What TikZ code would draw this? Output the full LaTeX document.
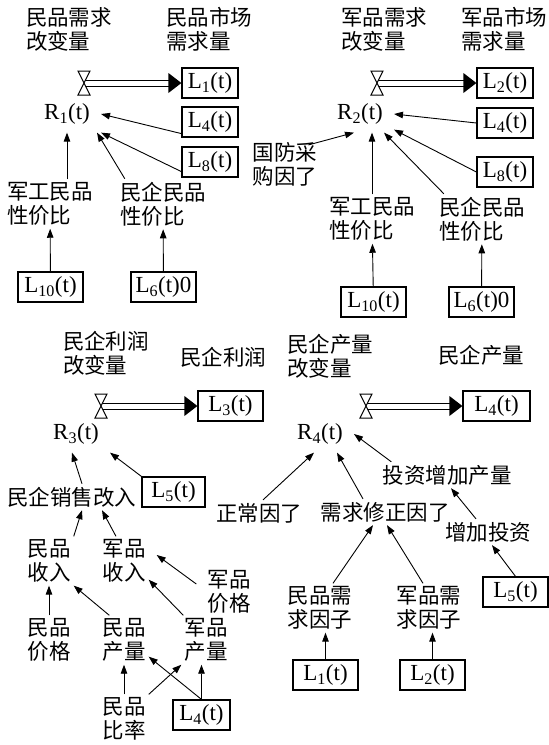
\documentclass[tikz,border=0pt]{standalone}
\usepackage{fontspec}
\setmainfont{Liberation Serif}
\newfontfamily\cjk{Noto Sans CJK SC}
\usetikzlibrary{arrows.meta}

\begin{document}
\begin{tikzpicture}[x=1pt, y=-1pt]
	\tikzstyle{place}=[rectangle, draw=black, line width=1.2pt, minimum width=56pt, minimum height=30pt, inner sep=1pt, font=\fontsize{23}{26}\selectfont]
	\tikzstyle{wide}=[place, minimum width=65pt]
	\tikzstyle{rate}=[inner xsep=11pt, inner ysep=8pt, font=\fontsize{23}{26}\selectfont]
	\tikzstyle{word}=[align=left, inner sep=3pt, font=\fontsize{21.5}{24}\selectfont\cjk]
	\tikzstyle{pipe}=[double, double distance=5pt, line width=1pt]
	\tikzstyle{valve}=[line width=1pt, fill=white]
	\tikzstyle{link}=[-{Triangle[length=9pt, width=6.5pt]}, line width=0.9pt]
	\useasboundingbox (0, 0) rectangle (549, 745);

	% civilian demand
	\draw node[word] at (69, 29) (d1) {民品需求\\改变量};
	\draw node[word] at (209, 29) (s1) {民品市场\\需求量};
	\coordinate (v1) at (84, 83);
	\draw node[place] at (210, 83) (L1) {L\textsubscript{1}(t)};
	\draw node[rate] at (67, 114) (R1) {R\textsubscript{1}(t)};
	\draw node[place] at (210, 122) (L4a) {L\textsubscript{4}(t)};
	\draw node[place] at (210, 162) (L8a) {L\textsubscript{8}(t)};
	\draw node[word] at (50, 204) (c1) {军工民品\\性价比};
	\draw node[word] at (163, 204) (c2) {民企民品\\性价比};
	\draw node[wide] at (50.5, 287) (L10a) {L\textsubscript{10}(t)};
	\draw node[wide] at (163.5, 287) (L6a) {L\textsubscript{6}(t)0};

	\draw [pipe] (v1) -- ([xshift=-12pt]L1.west);
	\fill ([xshift=-13pt, yshift=10pt]L1.west) -- (L1.west) -- ([xshift=-13pt, yshift=-10pt]L1.west) -- cycle;
	\draw [valve] (v1) ++(-6, -12) -- ++(12, 0) -- ++(-12, 24) -- ++(12, 0) -- cycle;
	\draw [link] ([yshift=4pt]L4a.south west) -- (R1.east);
	\draw [link] ([yshift=6pt]L8a.south west) -- (R1.south east);
	\draw [link] (c1.north -| R1.south) -- (R1.south);
	\draw [link] ([xshift=8pt]c2.north west) -- ([xshift=-4pt]R1.south east);
	\draw [link] (L10a) -- (c1);
	\draw [link] (L6a) -- (c2);

	% military demand
	\draw node[word] at (384, 29) (d2) {军品需求\\改变量};
	\draw node[word] at (504, 29) (s2) {军品市场\\需求量};
	\coordinate (v2) at (377, 83);
	\draw node[place] at (505, 83) (L2) {L\textsubscript{2}(t)};
	\draw node[rate] at (360, 114) (R2) {R\textsubscript{2}(t)};
	\draw node[place] at (505, 123) (L4b) {L\textsubscript{4}(t)};
	\draw node[place] at (505, 172) (L8b) {L\textsubscript{8}(t)};
	\draw node[word] at (285, 164) (gf) {国防采\\购因了};
	\draw node[word] at (372, 219) (c3) {军工民品\\性价比};
	\draw node[word] at (482, 219) (c4) {民企民品\\性价比};
	\draw node[wide] at (373.5, 302) (L10b) {L\textsubscript{10}(t)};
	\draw node[wide] at (481.5, 302) (L6b) {L\textsubscript{6}(t)0};

	\draw [pipe] (v2) -- ([xshift=-12pt]L2.west);
	\fill ([xshift=-13pt, yshift=10pt]L2.west) -- (L2.west) -- ([xshift=-13pt, yshift=-10pt]L2.west) -- cycle;
	\draw [valve] (v2) ++(-6, -12) -- ++(12, 0) -- ++(-12, 24) -- ++(12, 0) -- cycle;
	\draw [link] (L4b.west) -- (R2.east);
	\draw [link] (L8b.west) -- ([yshift=3pt]R2.south east);
	\draw [link] ([xshift=-12pt, yshift=-6pt]gf.north east) -- ([xshift=-6pt]R2.south);
	\draw [link] (c3.north) -- (c3.north |- R2.south);
	\draw [link] ([xshift=8pt]c4.north west) -- ([xshift=-10pt]R2.south east);
	\draw [link] (L10b) -- (c3);
	\draw [link] (L6b) -- (c4);

	% civilian profit
	\draw node[word] at (106, 353) (d3) {民企利润\\改变量};
	\draw node[word] at (223, 357) (s3) {民企利润};
	\coordinate (v3) at (101, 406);
	\draw node[wide] at (230.5, 406) (L3) {L\textsubscript{3}(t)};
	\draw node[rate] at (76, 434) (R3) {R\textsubscript{3}(t)};
	\draw node[wide, minimum width=63pt] at (173.5, 492) (L5a) {L\textsubscript{5}(t)};
	\draw node[word] at (72, 497) (ss) {民企销售改入};
	\draw node[word] at (49, 561) (mi) {民品\\收入};
	\draw node[word] at (124, 561) (ji) {军品\\收入};
	\draw node[word] at (229, 592) (jp) {军品\\价格};
	\draw node[word] at (49, 640) (mp) {民品\\价格};
	\draw node[word] at (124, 640) (mq) {民品\\产量};
	\draw node[word] at (206, 640) (jq) {军品\\产量};
	\draw node[word] at (124, 719) (mr) {民品\\比率};
	\draw node[place, minimum width=57pt] at (201.5, 715) (L4c) {L\textsubscript{4}(t)};

	\draw [pipe] (v3) -- ([xshift=-12pt]L3.west);
	\fill ([xshift=-13pt, yshift=10pt]L3.west) -- (L3.west) -- ([xshift=-13pt, yshift=-10pt]L3.west) -- cycle;
	\draw [valve] (v3) ++(-6, -12) -- ++(12, 0) -- ++(-12, 24) -- ++(12, 0) -- cycle;
	\draw [link] (L5a.north west) -- (R3.south east);
	\draw [link] ([xshift=10pt]ss.north) -- ([xshift=-4pt]R3.south);
	\draw [link] (mi.north east) -- ([xshift=10pt]ss.south);
	\draw [link] ([xshift=-8pt]ji.north) -- ([xshift=30pt]ss.south);
	\draw [link] ([xshift=-8pt, yshift=8pt]jp.west) -- ([xshift=8pt, yshift=6pt]ji.east);
	\draw [link] (mp) -- (mi);
	\draw [link] ([xshift=10pt]mq.north west) -- (mi.south east);
	\draw [link] ([xshift=2pt]jq.north west) -- ([yshift=6pt]ji.south east);
	\draw [link] (mr) -- (mq);
	\draw [link] (mr.north east) -- (jq.south west);
	\draw [link] (L4c.north) -- ([yshift=8pt]mq.south east);
	\draw [link] (L4c.north) -- (L4c.north |- jq.south);

	% civilian output
	\draw node[word] at (330, 356) (d4) {民企产量\\改变量};
	\draw node[word] at (481, 355) (s4) {民企产量};
	\coordinate (v4) at (366, 406);
	\draw node[wide, minimum width=67pt] at (496.5, 406) (L4d) {L\textsubscript{4}(t)};
	\draw node[rate] at (320, 434) (R4) {R\textsubscript{4}(t)};
	\draw node[word] at (447, 475) (ti) {投资增加产量};
	\draw node[word] at (259, 513) (nf) {正常因了};
	\draw node[word] at (385, 512) (xf) {需求修正因了};
	\draw node[word] at (488, 532) (zt) {增加投资};
	\draw node[wide] at (515.5, 592) (L5b) {L\textsubscript{5}(t)};
	\draw node[word] at (320, 608) (md) {民品需\\求因子};
	\draw node[word] at (429, 608) (jd) {军品需\\求因子};
	\draw node[wide] at (325.5, 675) (L1b) {L\textsubscript{1}(t)};
	\draw node[wide] at (432.5, 675) (L2b) {L\textsubscript{2}(t)};

	\draw [pipe] (v4) -- ([xshift=-12pt]L4d.west);
	\fill ([xshift=-13pt, yshift=10pt]L4d.west) -- (L4d.west) -- ([xshift=-13pt, yshift=-10pt]L4d.west) -- cycle;
	\draw [valve] (v4) ++(-6, -12) -- ++(12, 0) -- ++(-12, 24) -- ++(12, 0) -- cycle;
	\draw [link] ([xshift=12pt]ti.north west) -- (R4.east);
	\draw [link] ([xshift=4pt]nf.north) -- ([xshift=-6pt]R4.south);
	\draw [link] ([xshift=-22pt]xf.north) -- ([xshift=17pt]R4.south);
	\draw [link] ([xshift=-12pt]zt.north) -- ([xshift=4pt]ti.south);
	\draw [link] (L5b.north) -- ([xshift=4pt]zt.south);
	\draw [link] ([xshift=13pt]md.north) -- ([xshift=-12pt]xf.south);
	\draw [link] ([xshift=-6pt]jd.north) -- ([xshift=2pt]xf.south);
	\draw [link] (L1b.north) -- (L1b.north |- md.south);
	\draw [link] (L2b.north) -- (L2b.north |- jd.south);
\end{tikzpicture}
\end{document}
